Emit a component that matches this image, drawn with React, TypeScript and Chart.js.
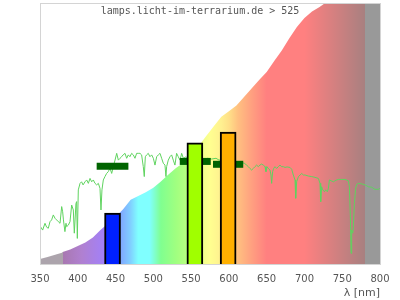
import React, { useEffect, useRef } from 'react';
import { Chart, registerables } from 'chart.js';

Chart.register(...registerables);

const TITLE = 'lamps.licht-im-terrarium.de > 525';
const X_AXIS_TITLE = 'λ [nm]';
const X_TICKS = [350, 400, 450, 500, 550, 600, 650, 700, 750, 800];

// background spectrum curve (wavelength nm, relative height)
const fillNm = [350, 360, 370, 379, 380, 390, 400, 410, 420, 430, 440, 450, 460, 470, 480, 490, 500, 510, 520, 530, 540, 550, 560, 570, 580, 590, 600, 610, 620, 630, 640, 650, 660, 670, 680, 690, 700, 710, 720, 730, 740, 760, 780, 800];
const fillVal = [1.9, 2.7, 3.5, 4.3, 4.6, 5.6, 6.9, 8.2, 10.2, 13.0, 15.5, 18.0, 21.0, 24.6, 26.1, 27.5, 29.2, 31.6, 34.3, 36.8, 38.8, 41.5, 45.2, 49.0, 52.8, 56.4, 58.5, 60.7, 64.0, 67.2, 70.5, 73.6, 77.8, 81.8, 86.5, 90.8, 94.3, 96.7, 98.5, 100.5, 103, 108, 112, 115];

// colour bands of the background
const gradNm = [350, 380, 380, 405, 440, 457, 470, 480, 495, 510, 530, 545, 560, 575, 590, 600, 612, 630, 650, 700, 780, 780, 800];
const gradColors = ['#aca4ac', '#aca4ac', '#a878b0', '#b080d0', '#a080ff', '#80a8ff', '#80d0ff', '#80ffff', '#80ffff', '#80ff90', '#a0ff80', '#b8ff80', '#e8ff88', '#ffff90', '#fff090', '#ffe088', '#ffc080', '#ffa080', '#ff8080', '#ff8080', '#a88080', '#999999', '#999999'];

// measured spectrum (green line)
const sunNm = [350, 353.5, 356.6, 358.8, 361, 363.2, 365.4, 367.6, 369.9, 372, 374.3, 376.5, 378.7, 380, 381, 383, 384.4, 385.3, 387.5, 389.7, 391.9, 394.1, 395.4, 397.6, 398.5, 399.4, 400.7, 403, 405, 407, 409.6, 411.8, 414, 416.2, 418.4, 420.6, 422.8, 425, 427.2, 429.4, 430.7, 432, 433.8, 436, 438.2, 440.4, 442.6, 444.9, 447, 449.3, 451.5, 453.7, 455.9, 458, 460, 462.5, 464.7, 466.9, 469, 471.3, 473.5, 475.7, 477.9, 480, 482.3, 484.5, 486.7, 488, 489.4, 491.1, 493.3, 495.5, 497.8, 500, 502.2, 504.4, 506.6, 508.8, 511, 513.2, 515.4, 516.7, 517.6, 519.8, 522, 524.2, 526.4, 528.6, 530.8, 533, 535.3, 537.5, 539.7, 543, 547, 552, 558, 563, 567, 572, 577, 583, 587, 592, 598, 604, 610, 615, 620.4, 623.5, 625.7, 627.9, 630.1, 632.3, 634.5, 636.7, 638.9, 641.1, 643.3, 645.5, 647.8, 649.1, 650.4, 652.2, 654.4, 655.7, 656.6, 657.9, 659.2, 661, 663.2, 665.4, 667.6, 669.8, 672, 674.3, 677, 680.9, 683.1, 685.3, 687.5, 688.4, 689.7, 692, 694.2, 696.4, 698.6, 700.8, 705.2, 709.6, 714, 718.4, 720.6, 721.5, 722.8, 724.2, 726.4, 728.1, 730.3, 731.7, 733, 735.2, 738.3, 740.5, 742.7, 744.9, 749.3, 753.7, 758.1, 759.5, 760.8, 761.7, 762.5, 763.9, 764.7, 766.1, 767.8, 769.2, 771.4, 775.8, 780.2, 784.6, 789, 793.4, 797.8, 800];
const sunVal = [14.6, 13.0, 15.6, 14.1, 13.7, 16.2, 16.9, 18.8, 17.5, 16.9, 16.2, 15.6, 22.0, 20.0, 16.9, 12.4, 15.6, 14.3, 14.9, 16.2, 22.6, 20.7, 11.8, 23.2, 23.9, 9.8, 28.4, 30.9, 31.5, 30.3, 31.5, 32.2, 30.9, 32.8, 31.5, 32.2, 30.9, 30.3, 30.9, 29.0, 20.7, 28.4, 32.2, 33.5, 34.7, 35.4, 36.7, 34.7, 37.3, 39.8, 42.4, 39.8, 40.5, 41.1, 41.8, 42.4, 40.5, 41.8, 41.1, 42.4, 41.8, 40.5, 42.4, 42.4, 42.4, 41.8, 37.3, 33.5, 41.1, 41.8, 42.4, 41.1, 41.8, 40.5, 37.9, 41.1, 41.8, 42.4, 40.5, 38.6, 37.9, 33.5, 37.3, 39.8, 41.1, 41.8, 39.8, 37.9, 42.4, 41.1, 39.8, 42.4, 40.5, 41.0, 40.5, 40.8, 40.2, 40.6, 40.0, 40.5, 40.2, 40.5, 39.8, 40.0, 39.6, 39.5, 39.2, 39.0, 38.6, 37.9, 37.3, 36.6, 36.0, 36.6, 37.3, 37.9, 37.3, 37.9, 38.3, 37.9, 37.3, 35.4, 37.3, 36.6, 36.0, 34.1, 30.9, 35.4, 36.6, 37.3, 36.6, 37.3, 37.9, 37.3, 37.3, 37.0, 37.2, 37.0, 36.3, 34.1, 32.2, 25.2, 31.5, 33.5, 34.1, 34.7, 34.1, 34.1, 33.7, 33.5, 33.2, 32.8, 30.9, 23.9, 29.6, 28.4, 27.7, 28.4, 27.7, 29.0, 32.2, 31.9, 31.5, 31.9, 32.2, 32.4, 32.4, 32.4, 31.9, 29.6, 18.2, 4.1, 13.0, 11.8, 14.3, 23.2, 29.0, 30.5, 30.9, 30.7, 30.3, 29.6, 29.4, 28.6, 28.6, 29.0];

// lamp bars
const barNm = [446, 555, 599];
const barVal = [19.5, 46.4, 50.5];
const barColors = ['#0020ff', '#a0ff00', '#ffb000'];

// dark green reference segments
const segStart = [425, 535, 579];
const segEnd = [467, 576, 619];
const segVal = [37.5, 39.3, 38.2];

const overlayPlugin = {
  id: 'overlay',
  afterDatasetsDraw(chart: any) {
    const { ctx, chartArea } = chart;
    ctx.save();
    ctx.strokeStyle = '#d4d4d4';
    ctx.lineWidth = 1;
    const l = Math.round(chartArea.left) + 0.5;
    const t = Math.round(chartArea.top) + 0.5;
    const r = Math.round(chartArea.right) + 0.5;
    const b = Math.round(chartArea.bottom) + 0.5;
    ctx.strokeRect(l, t, r - l, b - t);
    ctx.fillStyle = '#555';
    ctx.font = '10px "DejaVu Sans Mono", monospace';
    ctx.textAlign = 'center';
    ctx.textBaseline = 'middle';
    ctx.fillText(TITLE, 200, 11.5);
    ctx.restore();
  },
};

export default function App() {
  const ref = useRef<HTMLCanvasElement>(null);
  useEffect(() => {
    document.body.style.margin = '0';
    const canvas = ref.current;
    if (!canvas) return;
    const segDatasets = segStart.map((s, i) => ({
      type: 'line' as const,
      data: [
        { x: s, y: segVal[i] },
        { x: segEnd[i], y: segVal[i] },
      ],
      borderColor: '#006400',
      borderWidth: 7,
      borderCapStyle: 'butt',
      pointRadius: 0,
      fill: false,
      order: 2,
    }));
    const chart = new Chart(canvas, {
      type: 'line',
      data: {
        datasets: [
          {
            type: 'bar',
            data: barNm.map((x, i) => ({ x, y: barVal[i] })),
            backgroundColor: barColors,
            borderColor: '#000',
            borderWidth: 2,
            barThickness: 16,
            order: 1,
          } as any,
          ...segDatasets,
          {
            type: 'line',
            data: sunNm.map((x, i) => ({ x, y: sunVal[i] })),
            borderColor: '#5fd35f',
            borderWidth: 1,
            pointRadius: 0,
            fill: false,
            tension: 0,
            order: 3,
          },
          {
            type: 'line',
            data: fillNm.map((x, i) => ({ x, y: fillVal[i] })),
            borderWidth: 0,
            borderColor: 'rgba(0,0,0,0)',
            pointRadius: 0,
            tension: 0,
            fill: 'origin',
            clip: { left: 0, top: 3, right: 0, bottom: 0 },
            backgroundColor: (c: any) => {
              const ch = c.chart;
              if (!ch.chartArea) return 'rgba(0,0,0,0)';
              const xs = ch.scales.x;
              const x0 = xs.getPixelForValue(350);
              const x1 = xs.getPixelForValue(800);
              const g = ch.ctx.createLinearGradient(x0, 0, x1, 0);
              gradNm.forEach((nm, i) => g.addColorStop((nm - 350) / 450, gradColors[i]));
              return g;
            },
            order: 4,
          },
        ] as any,
      },
      options: {
        responsive: false,
        animation: false,
        devicePixelRatio: 1,
        layout: { padding: { left: 40, right: 20, top: 3, bottom: 0 } },
        plugins: {
          legend: { display: false },
          tooltip: { enabled: false },
        },
        scales: {
          x: {
            type: 'linear',
            min: 350,
            max: 800,
            offset: false,
            grid: { display: false, drawTicks: false, offset: false },
            border: { display: false },
            afterBuildTicks: (axis: any) => {
              axis.ticks = X_TICKS.map((v) => ({ value: v }));
            },
            afterFit: (axis: any) => {
              axis.height = 36;
            },
            ticks: {
              padding: 9,
              color: '#555',
              font: { family: '"DejaVu Sans", sans-serif', size: 10 },
              callback: (v: any) => String(v),
              maxRotation: 0,
              autoSkip: false,
            },
            title: {
              display: true,
              text: X_AXIS_TITLE,
              align: 'end',
              color: '#555',
              font: { family: '"DejaVu Sans", sans-serif', size: 11 },
              padding: { top: 0, bottom: 0 },
            },
          },
          y: {
            display: false,
            min: 0,
            max: 100,
          },
        },
      } as any,
      plugins: [overlayPlugin],
    });
    return () => chart.destroy();
  }, []);
  return (
    <div style={{ width: 400, height: 300 }}>
      <canvas ref={ref} width={400} height={300} style={{ display: 'block', width: 400, height: 300 }} />
    </div>
  );
}
